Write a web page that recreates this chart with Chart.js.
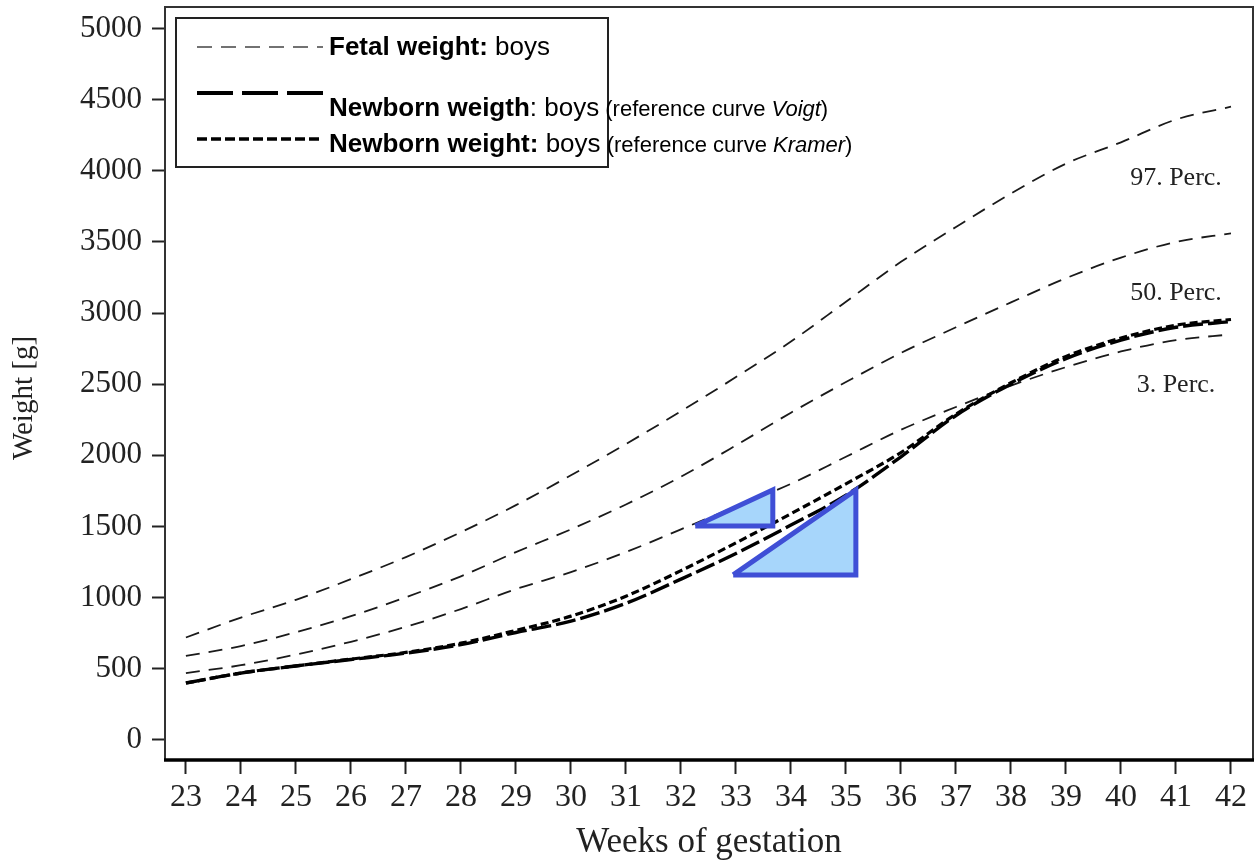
<!DOCTYPE html>
<html>
<head>
<meta charset="utf-8">
<script src="https://cdn.jsdelivr.net/npm/chart.js@4/dist/chart.umd.min.js"></script>
<style>
html,body{margin:0;padding:0;background:#fff}
#wrap{width:1258px;height:861px}
</style>
</head>
<body>
<div id="wrap"><canvas id="chart"></canvas></div>
<script>
// weeks of gestation
const weeks=[23,24,25,26,27,28,29,30,31,32,33,34,35,36,37,38,39,40,41,42];
// fetal weight percentiles (g)
const p97=[720,860,985,1130,1285,1460,1650,1860,2080,2310,2550,2800,3080,3360,3605,3840,4050,4200,4360,4450];
const p50=[590,660,757,870,1003,1150,1320,1480,1655,1850,2070,2300,2515,2720,2900,3075,3245,3390,3500,3560];
const p3=[470,525,600,690,795,920,1060,1180,1320,1480,1640,1800,1990,2180,2340,2490,2620,2730,2810,2850];
// newborn reference curves (g)
const voigt=[400,470,520,565,610,670,755,835,960,1130,1310,1510,1720,1990,2280,2500,2680,2810,2900,2940];
const kramer=[400,470,520,568,615,680,770,870,1010,1190,1385,1590,1800,2020,2290,2510,2695,2825,2915,2955];
const yTicks=[0,500,1000,1500,2000,2500,3000,3500,4000,4500,5000];

const percLabels=['97. Perc.','50. Perc.','3. Perc.'];
const percWeek=[41,41,41];
const percWeight=[3950,3140,2490];

// highlight triangles (week, g)
const triSmallX=[32.26,33.67,33.67,32.26];
const triSmallY=[1504,1757,1504,1504];
const triBigX=[32.95,35.18,35.18,32.95];
const triBigY=[1160,1757,1160,1160];

const pts=(xs,ys)=>xs.map((x,i)=>({x:x,y:ys[i]}));

const deco={
  id:'deco',
  afterDraw(c){
    const {ctx,chartArea:a,scales:{x,y}}=c;
    ctx.save();
    // frame
    ctx.strokeStyle='#333';ctx.lineWidth=2;
    ctx.strokeRect(a.left,a.top,a.right-a.left,a.bottom-a.top);
    ctx.strokeStyle='#000';ctx.lineWidth=3.5;
    ctx.beginPath();ctx.moveTo(a.left-1,a.bottom);ctx.lineTo(a.right+1,a.bottom);ctx.stroke();

    // percentile labels
    ctx.fillStyle='#222';ctx.textAlign='center';ctx.textBaseline='middle';
    ctx.font='26px "Liberation Serif"';
    percLabels.forEach((t,i)=>ctx.fillText(t,x.getPixelForValue(percWeek[i]),y.getPixelForValue(percWeight[i])));

    // axis titles
    ctx.font='35px "Liberation Serif"';
    ctx.fillText('Weeks of gestation',(a.left+a.right)/2,843);
    ctx.save();ctx.translate(24,398);ctx.rotate(-Math.PI/2);
    ctx.font='29px "Liberation Serif"';ctx.fillText('Weight [g]',0,0);
    ctx.restore();

    // legend
    ctx.strokeStyle='#222';ctx.lineWidth=2;
    ctx.strokeRect(176,18,432,149);
    function sample(yy,dash,w,col){
      ctx.beginPath();ctx.setLineDash(dash);ctx.lineWidth=w;ctx.strokeStyle=col;
      ctx.moveTo(197,yy);ctx.lineTo(323,yy);ctx.stroke();ctx.setLineDash([]);
    }
    sample(47,[15,9],1.7,'#444');
    sample(93,[36,9],4,'#000');
    sample(139,[10,4],3.5,'#000');
    function runs(xx,yy,parts){
      parts.forEach(p=>{ctx.font=p[1];ctx.fillText(p[0],xx,yy);xx+=ctx.measureText(p[0]).width;});
    }
    ctx.textAlign='left';ctx.textBaseline='alphabetic';ctx.fillStyle='#000';
    const B='bold 26px "Liberation Sans"',R='26px "Liberation Sans"',S='22px "Liberation Sans"',I='italic 22px "Liberation Sans"';
    runs(329,55,[['Fetal weight:',B],[' boys',R]]);
    runs(329,116,[['Newborn weigth',B],[': boys',R],[' (reference curve ',S],['Voigt',I],[')',S]]);
    runs(329,152,[['Newborn weight:',B],[' boys',R],[' (reference curve ',S],['Kramer',I],[')',S]]);
    ctx.restore();
  }
};

const tri=(xs,ys)=>({data:pts(xs,ys),borderColor:'#3f4fd6',backgroundColor:'#a7d6fb',borderWidth:5,
  fill:'shape',pointRadius:0,tension:0,borderJoinStyle:'miter'});
const fetal=d=>({data:pts(weeks,d),borderColor:'#1a1a1a',borderWidth:1.8,borderDash:[14,9],
  pointRadius:0,fill:false,cubicInterpolationMode:'monotone'});

const chart=new Chart(document.getElementById('chart'),{
  type:'line',
  data:{datasets:[
    tri(triSmallX,triSmallY),
    tri(triBigX,triBigY),
    {data:pts(weeks,kramer),borderColor:'#000',borderWidth:3.2,borderDash:[8,4],pointRadius:0,fill:false,cubicInterpolationMode:'monotone'},
    {data:pts(weeks,voigt),borderColor:'#000',borderWidth:3.4,borderDash:[20,5],pointRadius:0,fill:false,cubicInterpolationMode:'monotone'},
    fetal(p3),fetal(p50),fetal(p97)
  ]},
  options:{
    responsive:true,maintainAspectRatio:false,animation:false,devicePixelRatio:1,
    layout:{padding:{top:7,right:5,left:0,bottom:0}},
    plugins:{legend:{display:false},tooltip:{enabled:false}},
    scales:{
      x:{type:'linear',min:22.62,max:42.4,
        afterBuildTicks:s=>{s.ticks=weeks.map(v=>({value:v}));},
        afterFit:s=>{s.height=101;s.paddingLeft=0;s.paddingRight=0;},
        grid:{drawOnChartArea:false,tickLength:14,tickWidth:2,tickColor:'#222'},
        border:{display:false},
        ticks:{font:{family:'Liberation Serif',size:32},color:'#222',padding:4,maxRotation:0,autoSkip:false,
          callback:v=>String(v)}},
      y:{min:-141,max:5151,
        afterBuildTicks:s=>{s.ticks=yTicks.map(v=>({value:v}));},
        afterFit:s=>{s.width=165;s.paddingTop=0;s.paddingBottom=0;},
        grid:{drawOnChartArea:false,tickLength:13,tickWidth:2,tickColor:'#222'},
        border:{display:false},
        ticks:{font:{family:'Liberation Serif',size:31},color:'#222',padding:10,
          callback:v=>String(v)}}
    }
  },
  plugins:[deco]
});
</script>
</body>
</html>
